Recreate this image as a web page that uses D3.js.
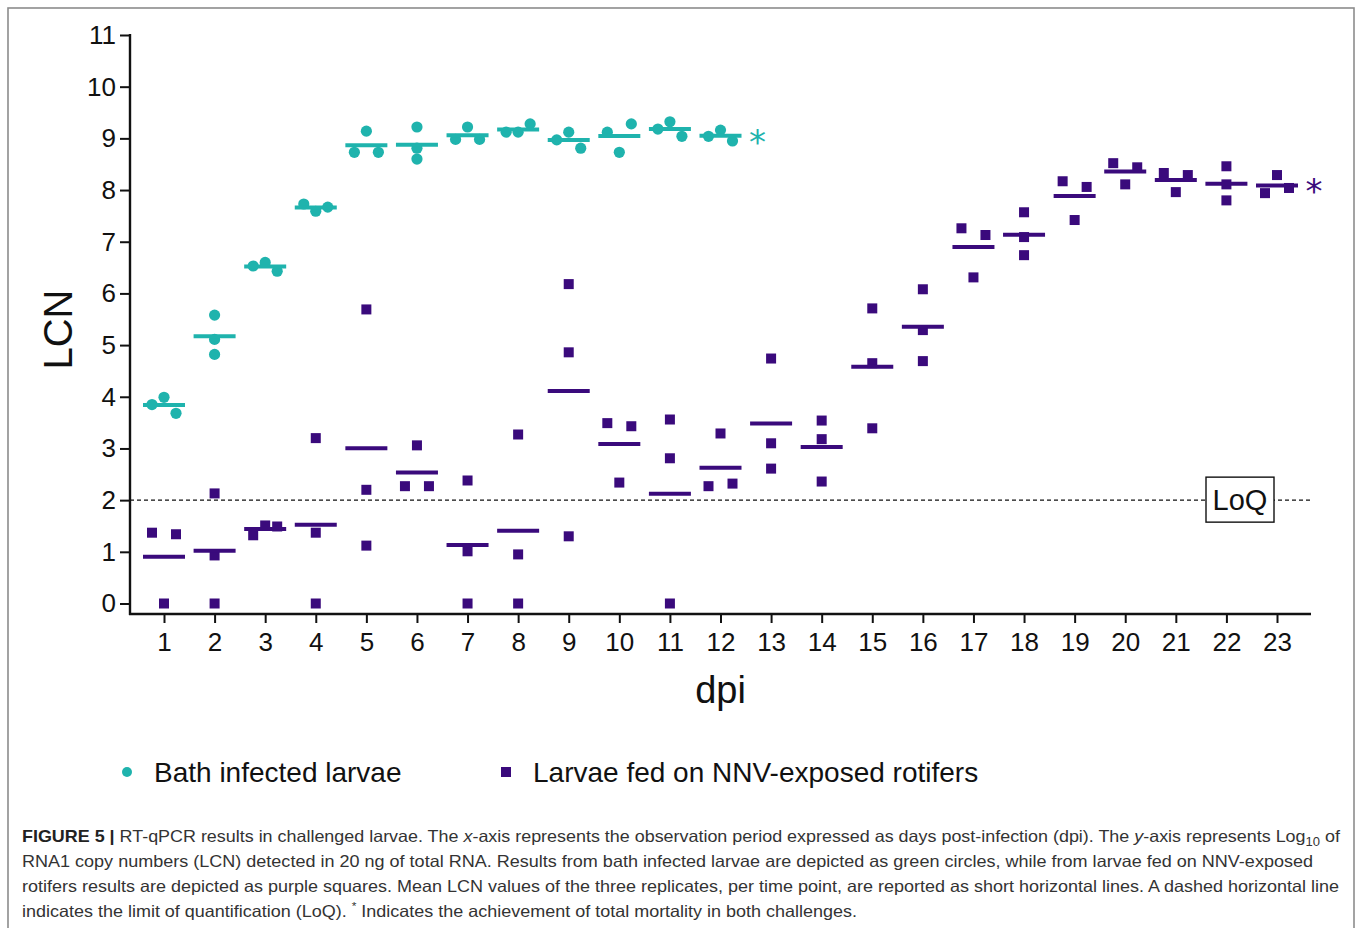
<!DOCTYPE html>
<html>
<head>
<meta charset="utf-8">
<script src="https://cdn.jsdelivr.net/npm/d3@7"></script>
<style>
  html, body { margin: 0; padding: 0; background: #fff; }
  svg { display: block; }
</style>
</head>
<body>
<svg id="chart" width="1358" height="928"></svg>
<script>
// ---------- DATA ----------
const dpiTicks = d3.range(1, 24);          // 1..23
const lcnTicks = d3.range(0, 12);          // 0..11
const bathDays = d3.range(1, 13);          // 1..12
const bathValues = [
  [3.85, 3.99, 3.68], [5.58, 5.11, 4.82], [6.53, 6.60, 6.43], [7.73, 7.59, 7.67],
  [9.14, 8.73, 8.73], [9.22, 8.81, 8.60], [9.22, 8.98, 8.98], [9.12, 9.12, 9.28],
  [8.97, 9.12, 8.81], [9.12, 9.28, 8.73], [9.18, 9.32, 9.04], [9.04, 9.16, 8.95]
];
const fedDays = d3.range(1, 24);           // 1..23
const fedValues = [
  [1.37, 0, 1.34], [2.13, 0.93, 0], [1.32, 1.51, 1.49], [3.20, 1.37, 0],
  [5.69, 2.20, 1.12], [2.27, 3.06, 2.27], [2.38, 1.01, 0], [3.27, 0.95, 0],
  [6.18, 4.86, 1.30], [3.49, 2.34, 3.43], [3.56, 2.81, 0], [2.27, 3.29, 2.32],
  [4.74, 3.10, 2.61], [3.54, 3.18, 2.36], [5.71, 4.65, 3.39], [6.08, 5.29, 4.69],
  [7.26, 6.31, 7.13], [7.57, 7.09, 6.74], [8.17, 7.42, 8.06], [8.52, 8.11, 8.44],
  [8.33, 7.96, 8.29], [8.46, 8.11, 7.80], [7.94, 8.29, 8.04]
];
const loqValue = 2;
const seriesNames = ["Bath infected larvae", "Larvae fed on NNV-exposed rotifers"];
const captionLines = [
  [{t: "FIGURE 5 | ", b: true}, {t: "RT-qPCR results in challenged larvae. The "}, {t: "x", i: true},
   {t: "-axis represents the observation period expressed as days post-infection (dpi). The "}, {t: "y", i: true},
   {t: "-axis represents Log"}, {t: "10", sub: true}, {t: " of"}],
  [{t: "RNA1 copy numbers (LCN) detected in 20 ng of total RNA. Results from bath infected larvae are depicted as green circles, while from larvae fed on NNV-exposed"}],
  [{t: "rotifers results are depicted as purple squares. Mean LCN values of the three replicates, per time point, are reported as short horizontal lines. A dashed horizontal line"}],
  [{t: "indicates the limit of quantification (LoQ). "}, {t: "*", sup: true}, {t: " Indicates the achievement of total mortality in both challenges."}]
];

// ---------- STYLE / LAYOUT ----------
const TEAL = "#1fb3ad", PURPLE = "#3a0a7c";
const FONT = "'Liberation Sans', Arial, Helvetica, sans-serif";
const svg = d3.select("#chart");

const x = d3.scaleLinear().domain([1, 23]).range([164, 1277]);
const y = d3.scaleLinear().domain([0, 11]).range([603.5, 35]);
const axisX0 = 130, axisX1 = 1311, axisY = 614;

// frame
svg.append("rect").attr("x", 8).attr("y", 8).attr("width", 1346).attr("height", 960)
  .attr("fill", "none").attr("stroke", "#8c8c8c").attr("stroke-width", 1.6);

// ---------- AXES ----------
const yAxis = svg.append("g").attr("transform", `translate(${axisX0},0)`)
  .call(d3.axisLeft(y).tickValues(lcnTicks).tickSize(10).tickPadding(4).tickFormat(d3.format("d")));
yAxis.select(".domain").remove();
yAxis.selectAll(".tick line").attr("stroke", "#111").attr("stroke-width", 2);
yAxis.selectAll(".tick text").attr("font-family", FONT).attr("font-size", 26).attr("fill", "#111");
svg.append("line").attr("x1", axisX0).attr("x2", axisX0).attr("y1", y(11) - 1).attr("y2", axisY + 1)
  .attr("stroke", "#111").attr("stroke-width", 2.4);

const xAxis = svg.append("g").attr("transform", `translate(0,${axisY})`)
  .call(d3.axisBottom(x).tickValues(dpiTicks).tickSize(9).tickPadding(10).tickFormat(d3.format("d")));
xAxis.select(".domain").remove();
xAxis.selectAll(".tick line").attr("stroke", "#111").attr("stroke-width", 2);
xAxis.selectAll(".tick text").attr("font-family", FONT).attr("font-size", 26).attr("fill", "#111");
svg.append("line").attr("x1", axisX0 - 1).attr("x2", axisX1).attr("y1", axisY).attr("y2", axisY)
  .attr("stroke", "#111").attr("stroke-width", 2.4);

// axis titles
svg.append("text").attr("transform", `translate(72,${(y(11) + axisY) / 2 + 5}) rotate(-90)`)
  .attr("text-anchor", "middle").attr("font-family", FONT).attr("font-size", 40).attr("fill", "#111").text("LCN");
svg.append("text").attr("x", (axisX0 + axisX1) / 2).attr("y", 703)
  .attr("text-anchor", "middle").attr("font-family", FONT).attr("font-size", 38).attr("fill", "#111").text("dpi");

// ---------- LoQ line ----------
svg.append("line").attr("x1", axisX0).attr("x2", axisX1).attr("y1", y(loqValue)).attr("y2", y(loqValue))
  .attr("stroke", "#111").attr("stroke-width", 1.4).attr("stroke-dasharray", "4,3");
const loqG = svg.append("g");
loqG.append("rect").attr("x", 1206).attr("y", y(loqValue) - 23).attr("width", 68).attr("height", 45)
  .attr("fill", "#fff").attr("stroke", "#111").attr("stroke-width", 1.4);
loqG.append("text").attr("x", 1240).attr("y", y(loqValue) + 10).attr("text-anchor", "middle")
  .attr("font-family", FONT).attr("font-size", 29).attr("fill", "#111").text("LoQ");

// ---------- jitter layout (rows of overlapping points spread sideways) ----------
function layout(vals, day, symbolPx) {
  const pts = vals.map((v, i) => ({v, i, day, py: y(v)}));
  const sorted = pts.slice().sort((a, b) => a.py - b.py);
  const rows = [];
  sorted.forEach(p => {
    const last = rows[rows.length - 1];
    if (last && Math.abs(p.py - last[last.length - 1].py) < symbolPx) last.push(p);
    else rows.push([p]);
  });
  const step = 12;
  rows.forEach(r => {
    r.sort((a, b) => a.i - b.i);
    const n = r.length;
    const offs = n === 1 ? [0] : n === 2 ? [-step, step] : d3.range(n).map(k => (k - (n - 1) / 2) * step);
    r.forEach((p, k) => p.dx = offs[k]);
  });
  return pts;
}

function drawSeries(days, values, color, shape) {
  const g = svg.append("g");
  days.forEach((d, di) => {
    const pts = layout(values[di], d, 10);
    const cx = x(d);
    if (shape === "circle") {
      g.selectAll(null).data(pts).enter().append("circle")
        .attr("cx", p => cx + p.dx).attr("cy", p => p.py).attr("r", 5.6).attr("fill", color);
    } else {
      g.selectAll(null).data(pts).enter().append("rect")
        .attr("x", p => cx + p.dx - 5).attr("y", p => p.py - 5).attr("width", 10).attr("height", 10).attr("fill", color);
    }
    const m = d3.mean(values[di]);
    g.append("line").attr("x1", cx - 21).attr("x2", cx + 21).attr("y1", y(m)).attr("y2", y(m))
      .attr("stroke", color).attr("stroke-width", 4);
  });
  // asterisk after the last point (total mortality)
  const lastDay = days[days.length - 1];
  const lastMean = d3.mean(values[values.length - 1]);
  svg.append("text").attr("x", x(lastDay) + 37).attr("y", y(lastMean) + 18).attr("text-anchor", "middle")
    .attr("font-family", "'DejaVu Sans', sans-serif").attr("font-size", 34).attr("fill", color).text("*");
}
drawSeries(fedDays, fedValues, PURPLE, "square");
drawSeries(bathDays, bathValues, TEAL, "circle");

// ---------- legend ----------
const leg = svg.append("g").attr("font-family", FONT).attr("font-size", 28).attr("fill", "#111");
leg.append("circle").attr("cx", 127).attr("cy", 772).attr("r", 5).attr("fill", TEAL);
leg.append("text").attr("x", 154).attr("y", 782).text(seriesNames[0]);
leg.append("rect").attr("x", 501).attr("y", 767).attr("width", 10).attr("height", 10).attr("fill", PURPLE);
leg.append("text").attr("x", 533).attr("y", 782).text(seriesNames[1]);

// ---------- caption ----------
const capWidths = [1318, 1291, 1317, 835];
const cap = svg.append("g").attr("font-family", "'Liberation Sans Narrow', 'Liberation Sans', Arial, sans-serif")
  .attr("font-size", 16.5).attr("fill", "#333");
captionLines.forEach((line, li) => {
  const t = cap.append("text").attr("x", 22).attr("y", 842 + li * 25)
    .attr("textLength", capWidths[li]).attr("lengthAdjust", "spacingAndGlyphs");
  line.forEach(s => {
    const ts = t.append("tspan").text(s.t);
    if (s.b) ts.attr("font-weight", "bold").attr("fill", "#222");
    if (s.i) ts.attr("font-style", "italic");
    if (s.sub) ts.attr("font-size", 12).attr("dy", 4);
    if (s.sup) ts.attr("font-size", 11).attr("dy", -7);
  });
  // reset baseline after sub/sup
  t.selectAll("tspan").each(function(d, k) {
    const prev = line[k - 1];
    if (prev && (prev.sub || prev.sup)) d3.select(this).attr("dy", prev.sub ? -4 : 7);
  });
});
</script>
</body>
</html>
